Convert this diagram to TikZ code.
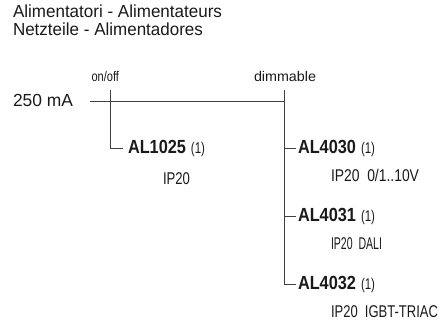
\documentclass[tikz,border=0pt]{standalone}
\usepackage{fontspec}
\usepackage{graphicx}
\setmainfont{Liberation Sans}
\definecolor{txt}{HTML}{1A1A1A}
\definecolor{linec}{HTML}{404040}
\newsavebox\twbox
\newcommand{\tw}[2]{\sbox\twbox{#2}\pgfmathsetmacro\twf{#1/\wd\twbox}\scalebox{\twf}[1]{\usebox\twbox}}
\newcommand{\refno}{{\fontsize{15.5}{17}\selectfont\tw{14}{(1)}}}
\tikzset{
  txtnode/.style={anchor=base west, inner sep=0pt, outer sep=0pt, text=txt},
  big/.style={txtnode, font=\fontsize{17.5}{20}\selectfont},
  lbl/.style={txtnode, font=\fontsize{14}{16}\selectfont},
  small/.style={txtnode, font=\fontsize{17}{19}\selectfont},
  code/.style={anchor=west, inner sep=0pt, outer sep=0pt, text=txt, font=\fontsize{19}{21}\selectfont},
  ln/.style={draw=linec, line width=0.9pt}
}
\begin{document}
\begin{tikzpicture}[x=1pt,y=-1pt]
\useasboundingbox (0,0) rectangle (445,327);
% titles
\node[big] (t1) at (13,17.5) {\tw{209}{Alimentatori - Alimentateurs}};
\node[big] (t2) at (13,35) {\tw{190}{Netzteile - Alimentadores}};
\node[big] (ma) at (13,106.5) {\tw{60}{250 mA}};
\node[lbl] (onoff) at (91.5,81.5) {\tw{27.5}{on/off}};
\node[lbl] (dim) at (254,81.5) {\tw{62}{dimmable}};
% product nodes
\node[code] (al1025) at (128,148) {\textbf{\tw{58}{AL1025}}\hspace{5pt}\refno};
\node[code] (al4030) at (298,148) {\textbf{\tw{58}{AL4030}}\hspace{5pt}\refno};
\node[code] (al4031) at (298,216) {\textbf{\tw{58}{AL4031}}\hspace{5pt}\refno};
\node[code] (al4032) at (298,284) {\textbf{\tw{58}{AL4032}}\hspace{5pt}\refno};
\node[small] (ip1) at (163,184) {\tw{27}{IP20}};
\node[small] (ip2) at (331,181.5) {\tw{88}{IP20\ \ 0/1..10V}};
\node[small] (ip3) at (331,249.5) {\tw{51}{IP20\ \ DALI}};
\node[small] (ip4) at (331,317.5) {\tw{107}{IP20\ \ IGBT-TRIAC}};
% coordinates
\coordinate (hs) at (90,101);
\coordinate (he) at (284,101);
\coordinate (lt) at (110,89.5);
\coordinate (rt) at (284,90);
% lines
\draw[ln] (hs) -- (he);
\draw[ln] (lt) |- ([xshift=-5pt]al1025.west);
\draw[ln] (rt) |- ([xshift=-2pt]al4032.west);
\draw[ln] (rt |- al4030.west) -- ([xshift=-2pt]al4030.west);
\draw[ln] (rt |- al4031.west) -- ([xshift=-2pt]al4031.west);
\end{tikzpicture}
\end{document}
